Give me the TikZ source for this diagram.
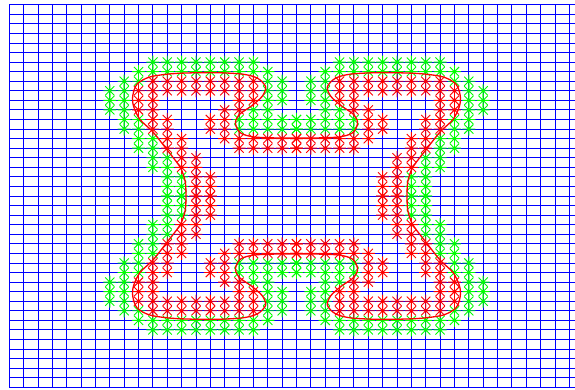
\documentclass[tikz,border=0pt]{standalone}
\tikzset{
  gridline/.style={draw=blue, line width=0.9pt},
  curveline/.style={draw=red, line width=1.3pt},
  ast/.pic={\draw[line width=0.9pt] (-6.5pt,0)--(6.5pt,0) (0,-6.5pt)--(0,6.5pt)
     (-4.6pt,-4.6pt)--(4.6pt,4.6pt) (-4.6pt,4.6pt)--(4.6pt,-4.6pt);}
}
\begin{document}
\begin{tikzpicture}[x=1pt,y=-1pt]
\useasboundingbox (0,0) rectangle (575,390);
\begin{scope}[shift={(9.3pt,-4.7pt)},x=14.36pt,y=-9.565pt]
  \foreach \i in {0,...,39} \draw[gridline] (\i,0) -- (\i,40);
  \foreach \j in {0,...,40} \draw[gridline] (0,\j) -- (39.4,\j);
  % green markers (one quadrant, mirrored four ways)
  \foreach \j/\l in {6/{10,...,17},7/{9,...,18},8/{8,9,18,19},9/{7,8,18,19},
      10/{7,8,18,19},11/{7,8,17,18},12/{8,9,16,17,18,19,20},13/{8,9,16,17,18,19,20},
      14/{9,10},15/{9,10},16/{10,11},17/{10,11},18/{11,12},19/{11,12},20/{11,12}}{
    \foreach \i in \l {
      \pic[green] at (\i,\j) {ast};
      \pic[green] at ({40-\i},\j) {ast};
      \pic[green] at (\i,{40-\j}) {ast};
      \pic[green] at ({40-\i},{40-\j}) {ast};}}
  % red markers
  \foreach \j/\l in {8/{10,...,17},9/{9,...,17},10/{9,10,16,17},11/{9,10,15,16},
      12/{10,11,14,15},13/{10,11,14,15},14/{11,12,15,16,17,18,19,20},
      15/{11,12,16,17,18,19,20},16/{12,13},17/{12,13},18/{13,14},19/{13,14},20/{13,14}}{
    \foreach \i in \l {
      \pic[red] at (\i,\j) {ast};
      \pic[red] at ({40-\i},\j) {ast};
      \pic[red] at (\i,{40-\j}) {ast};
      \pic[red] at ({40-\i},{40-\j}) {ast};}}
  \draw[curveline] plot[smooth cycle] coordinates {
   (12.3,20) (12.25,18.5) (11.9,17) (11.0,15.2) (10.0,13.3) (9.1,12.0) (8.65,10.6)
   (8.6,9.5) (8.9,8.3) (9.8,7.55) (11.5,7.2) (14,7.1) (16.2,7.25) (17.3,7.7)
   (17.85,8.6) (17.6,9.6) (16.85,10.6) (16.0,11.5) (15.75,12.4) (16.1,13.4)
   (17.2,13.85) (20,13.95)
   (22.8,13.85) (23.9,13.4) (24.25,12.4) (24.0,11.5) (23.15,10.6) (22.4,9.6)
   (22.15,8.6) (22.7,7.7) (23.8,7.25) (26,7.1) (28.5,7.2) (30.2,7.55) (31.1,8.3)
   (31.4,9.5) (31.35,10.6) (30.9,12.0) (30.0,13.3) (29.0,15.2) (28.1,17)
   (27.75,18.5) (27.7,20)
   (27.75,21.5) (28.1,23) (29.0,24.8) (30.0,26.7) (30.9,28) (31.35,29.4)
   (31.4,30.5) (31.1,31.7) (30.2,32.45) (28.5,32.8) (26,32.9) (23.8,32.75)
   (22.7,32.3) (22.15,31.4) (22.4,30.4) (23.15,29.4) (24.0,28.5) (24.25,27.6)
   (23.9,26.6) (22.8,26.15) (20,26.05)
   (17.2,26.15) (16.1,26.6) (15.75,27.6) (16.0,28.5) (16.85,29.4) (17.6,30.4)
   (17.85,31.4) (17.3,32.3) (16.2,32.75) (14,32.9) (11.5,32.8) (9.8,32.45)
   (8.9,31.7) (8.6,30.5) (8.65,29.4) (9.1,28) (10.0,26.7) (11.0,24.8)
   (11.9,23) (12.25,21.5)};
\end{scope}
\end{tikzpicture}
\end{document}
